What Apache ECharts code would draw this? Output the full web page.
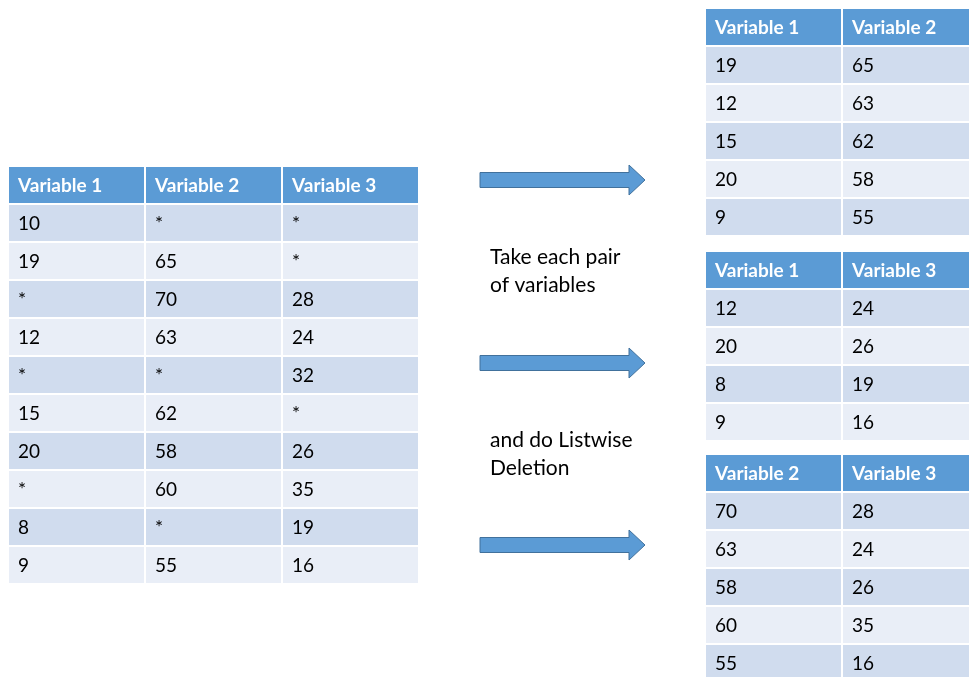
<!DOCTYPE html>
<html>
<head>
<meta charset="utf-8">
<script src="https://cdn.jsdelivr.net/npm/echarts@6/dist/echarts.min.js"></script>
<style>
  html, body { margin: 0; padding: 0; background: #fff; }
  #main { width: 969px; height: 677px; }
</style>
</head>
<body>
<div id="main"></div>
<script>
// source table
const mainHeader = ['Variable 1', 'Variable 2', 'Variable 3'];
const var1 = ['10', '19', '*', '12', '*', '15', '20', '*', '8', '9'];
const var2 = ['*', '65', '70', '63', '*', '62', '58', '60', '*', '55'];
const var3 = ['*', '*', '28', '24', '32', '*', '26', '35', '19', '16'];

// pairwise tables after listwise deletion
const pair12Header = ['Variable 1', 'Variable 2'];
const pair12A = ['19', '12', '15', '20', '9'];
const pair12B = ['65', '63', '62', '58', '55'];

const pair13Header = ['Variable 1', 'Variable 3'];
const pair13A = ['12', '20', '8', '9'];
const pair13B = ['24', '26', '19', '16'];

const pair23Header = ['Variable 2', 'Variable 3'];
const pair23A = ['70', '63', '58', '60', '55'];
const pair23B = ['28', '24', '26', '35', '16'];

const captionTop = 'Take each pair\nof variables';
const captionBottom = 'and do Listwise\nDeletion';

const HEAD = '#5B9BD5', BAND1 = '#D0DCEE', BAND2 = '#E9EEF7';
const FONT = 'Lato';

const tables = [
  { header: mainHeader, cols: [var1, var2, var3], left: 8, top: 166 },
  { header: pair12Header, cols: [pair12A, pair12B], left: 705, top: 8 },
  { header: pair13Header, cols: [pair13A, pair13B], left: 705, top: 251 },
  { header: pair23Header, cols: [pair23A, pair23B], left: 705, top: 454 }
];
const COL_W = 137, ROW_H = 38;

const grid = [], xAxis = [], yAxis = [], series = [];
tables.forEach((t, i) => {
  const nRows = t.cols[0].length + 1;
  grid.push({
    left: t.left, top: t.top, width: COL_W * t.header.length, height: ROW_H * nRows,
    containLabel: false, outerBoundsMode: 'none'
  });
  xAxis.push({ gridIndex: i, type: 'category', data: t.header.map((_, c) => c), show: false });
  yAxis.push({ gridIndex: i, type: 'category', inverse: true, data: Array.from({ length: nRows }, (_, r) => r), show: false });
  const cells = [];
  t.header.forEach((h, c) => cells.push({ value: [c, 0], text: h }));
  t.cols.forEach((col, c) => col.forEach((v, r) => cells.push({ value: [c, r + 1], text: v })));
  series.push({
    type: 'custom',
    xAxisIndex: i,
    yAxisIndex: i,
    clip: false,
    data: cells,
    renderItem: (params, api) => {
      const row = api.value(1);
      const p = api.coord([api.value(0), row]);
      const s = api.size([1, 1]);
      const x0 = p[0] - s[0] / 2, y0 = p[1] - s[1] / 2;
      const fill = row === 0 ? HEAD : (row % 2 ? BAND1 : BAND2);
      return {
        type: 'group',
        children: [
          { type: 'rect', shape: { x: x0 + 1, y: y0 + 1, width: s[0] - 2, height: s[1] - 2 }, style: { fill: fill } },
          {
            type: 'text', x: x0 + 10, y: p[1] + 1,
            style: {
              text: cells[params.dataIndex].text,
              fill: row === 0 ? '#fff' : '#000',
              font: (row === 0 ? 'bold ' : '') + '19px ' + FONT,
              verticalAlign: 'middle'
            }
          }
        ]
      };
    }
  });
});

function arrow(cy) {
  return {
    type: 'polygon',
    shape: { points: [[480, cy - 7.5], [629, cy - 7.5], [629, cy - 15], [645, cy], [629, cy + 15], [629, cy + 7.5], [480, cy + 7.5]] },
    style: { fill: HEAD, stroke: '#41719C', lineWidth: 1 }
  };
}

const chart = echarts.init(document.getElementById('main'));
chart.setOption({
  animation: false,
  grid, xAxis, yAxis, series,
  graphic: [
    arrow(180), arrow(363), arrow(545),
    { type: 'text', left: 490, top: 243, style: { text: captionTop, font: '21px ' + FONT, lineHeight: 28, fill: '#000' } },
    { type: 'text', left: 490, top: 426, style: { text: captionBottom, font: '21px ' + FONT, lineHeight: 28, fill: '#000' } }
  ]
});
</script>
</body>
</html>
